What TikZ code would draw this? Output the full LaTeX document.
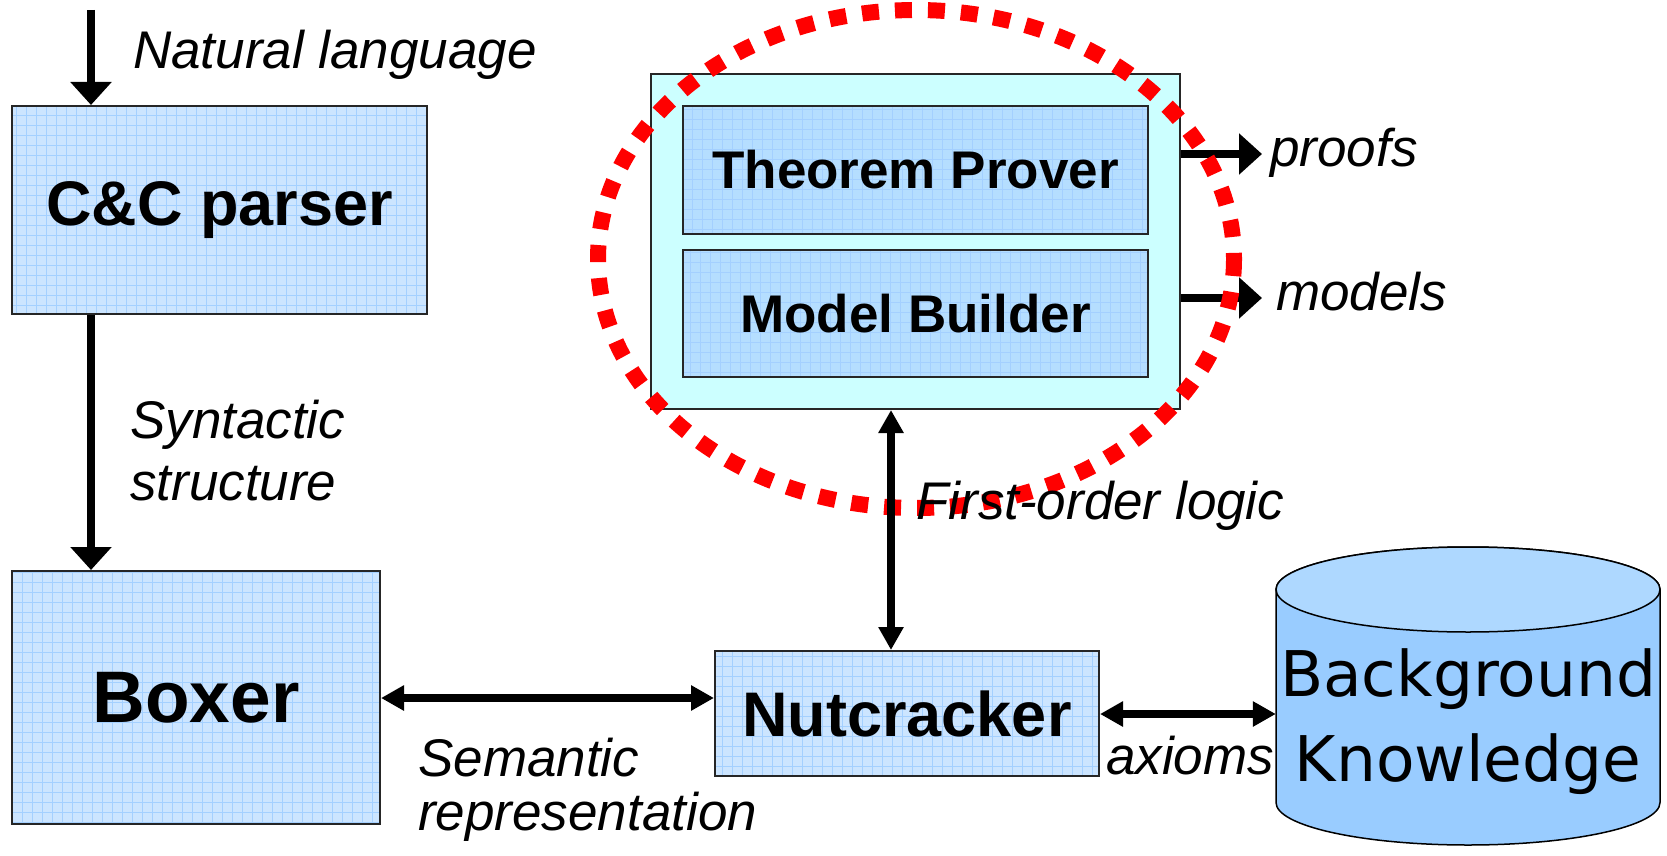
\documentclass[tikz,border=0pt]{standalone}
\usepackage{fontspec}
\setmainfont{Liberation Sans}
\newfontfamily\dejavu{DejaVu Sans}
\usetikzlibrary{arrows.meta}
\definecolor{boxfill}{HTML}{CCE5FF}
\definecolor{gridln}{HTML}{A4D0FF}
\definecolor{innerfill}{HTML}{B5DEFF}
\definecolor{outerfill}{HTML}{CCFFFF}
\definecolor{cylfill}{HTML}{99CCFF}
\definecolor{cyltop}{HTML}{AED8FF}
\definecolor{dotred}{HTML}{FF0000}
\begin{document}
\begin{tikzpicture}[x=1pt,y=-1pt,
  gridbox/.style={draw=black!85, line width=2pt, fill=#1, inner sep=0pt,
    path picture={\draw[gridln, line width=0.7pt] (path picture bounding box.south west) grid[step=10pt] (path picture bounding box.north east);}},
  bigb/.style={font=\fontsize{#1}{#1}\selectfont\bfseries},
  lab/.style={font=\fontsize{53}{60}\selectfont\itshape, inner sep=0pt},
  arr/.style={line width=8pt, -{Triangle[length=23pt,width=40pt]}},
  dbl/.style={line width=8pt, {Triangle[length=23pt,width=24pt]}-{Triangle[length=23pt,width=24pt]}}
]
\useasboundingbox (0,0) rectangle (1667,856);

% boxes
\node[gridbox=boxfill, minimum width=415pt, minimum height=208pt, bigb=63] (cc) at (219.5,210) {C\&C parser};
\node[gridbox=boxfill, minimum width=368pt, minimum height=253pt, bigb=73] (boxer) at (196,697.5) {Boxer};
\node[gridbox=boxfill, minimum width=384pt, minimum height=125pt, bigb=63] (nut) at (907,713.5) {Nutcracker};
\node[draw=black!85, line width=2pt, fill=outerfill, minimum width=529pt, minimum height=335pt] (outer) at (915.5,241.5) {};
\node[gridbox=innerfill, minimum width=465pt, minimum height=128pt, bigb=53] (tp) at (915.5,170) {Theorem Prover};
\node[gridbox=innerfill, minimum width=465pt, minimum height=127pt, bigb=53] (mb) at (915.5,313.5) {Model Builder};

% cylinder
\node[minimum width=384pt, minimum height=298pt, inner sep=0pt] (cyl) at (1468,696) {};
\filldraw[fill=cylfill, draw=black, line width=1.5pt] (1276,589.5) -- (1276,802.5)
  arc[start angle=180, end angle=0, x radius=192, y radius=42.5] -- (1660,589.5)
  arc[start angle=0, end angle=-180, x radius=192, y radius=42.5] -- cycle;
\filldraw[fill=cyltop, draw=black, line width=1.5pt] (1468,589.5) ellipse[x radius=192, y radius=42.5];

% coordinates
\coordinate (nltop) at (91,10);
\coordinate (semy) at (0,698);
\coordinate (fox) at (891,0);
\coordinate (pf) at (1262,154);
\coordinate (md) at (1262,298);
\coordinate (axy) at (0,714);

% arrows under the red ellipse
\draw[arr] (outer.east |- pf) -- (pf);
\draw[arr] (outer.east |- md) -- (md);

% red dotted ellipse
\draw[dotred, line width=16pt, dash pattern=on 17pt off 16pt] (916,259) ellipse[x radius=318, y radius=249];

% other arrows
\draw[arr] (nltop) -- (cc.north -| nltop);
\draw[arr] (cc.south -| nltop) -- (boxer.north -| nltop);
\draw[dbl] (boxer.east |- semy) -- (nut.west |- semy);
\draw[dbl] (outer.south -| fox) -- (nut.north -| fox);
\draw[dbl] (nut.east |- axy) -- (cyl.west |- axy);

% labels
\node[lab, anchor=base west] (nl) at (133,69) {Natural language};
\node[lab, anchor=base west] (syn) at (130,438) {Syntactic};
\node[lab, anchor=base west] (str) at (130,500) {structure};
\node[lab, anchor=base west] (sem) at (418,776) {Semantic};
\node[lab, anchor=base west] (rep) at (418,830) {representation};
\node[lab, anchor=base west] (fol) at (916,519) {First-order logic};
\node[lab, anchor=base west] (prf) at (1270,166) {proofs};
\node[lab, anchor=base west] (mdl) at (1276,310) {models};
\node[lab, anchor=base west] (ax) at (1106,774) {axioms};
\node[font=\fontsize{63}{70}\selectfont\dejavu, inner sep=0pt, anchor=base] (bg) at (1468,696) {Background};
\node[font=\fontsize{63}{70}\selectfont\dejavu, inner sep=0pt, anchor=base] (kn) at (1468,781) {Knowledge};
\end{tikzpicture}
\end{document}
